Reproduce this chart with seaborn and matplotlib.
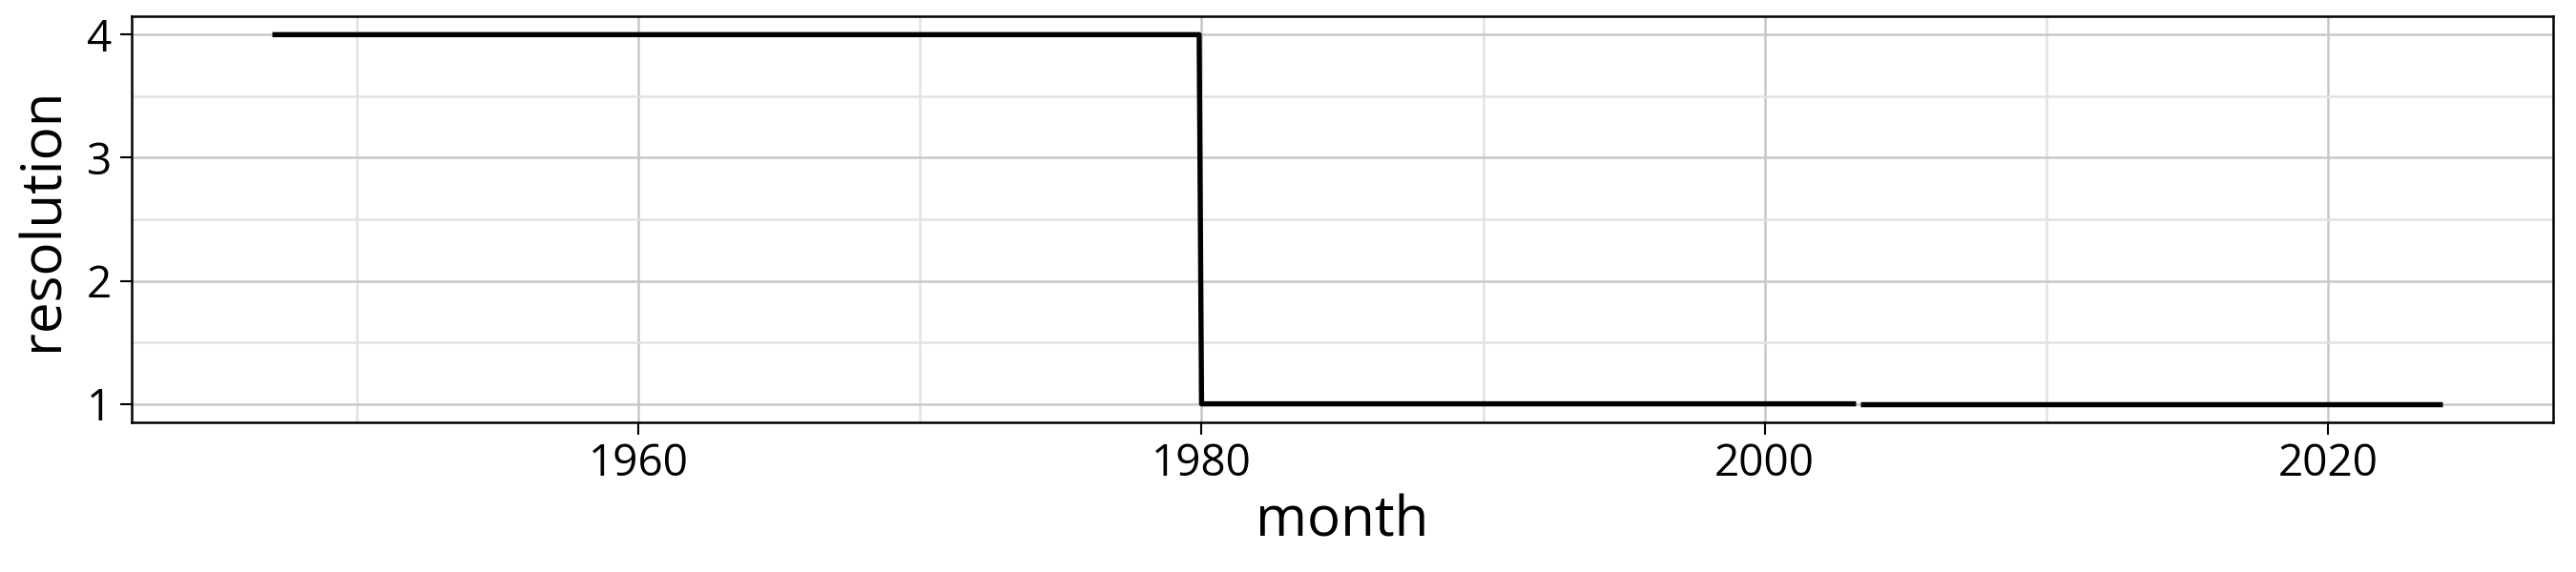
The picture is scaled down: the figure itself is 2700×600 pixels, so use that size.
import matplotlib
matplotlib.use('Agg')
import matplotlib.pyplot as plt
import matplotlib.dates as mdates
import pandas as pd
import seaborn as sns

# breakpoints of the monthly resolution series (one gap in May 2003)
months = ['1947-01', '1979-12', '1980-01', '2003-04', '2003-06', '2024-02']
resolution = [4, 4, 1, 1, 1, 1]
segment = [0, 0, 0, 0, 1, 1]

df = pd.DataFrame({
    'month': pd.to_datetime(months),
    'resolution': resolution,
    'segment': segment,
})

sns.set_theme(style='whitegrid')
plt.rcParams['font.family'] = ['Open Sans', 'DejaVu Sans']
plt.rcParams['text.color'] = 'black'
plt.rcParams['axes.labelcolor'] = 'black'
plt.rcParams['xtick.color'] = 'black'
plt.rcParams['ytick.color'] = 'black'

fig, ax = plt.subplots(figsize=(9, 2), dpi=300)
fig.subplots_adjust(left=0.0511, right=0.9911, bottom=0.2617, top=0.9717)

sns.lineplot(
    data=df,
    x='month',
    y='resolution',
    units='segment',
    estimator=None,
    color='black',
    linewidth=1.3,
    solid_capstyle='butt',
    ax=ax
)

ax.set_xlim(pd.Timestamp('1942-01-01'), pd.Timestamp('2028-01-01'))
ax.xaxis.set_major_locator(mdates.YearLocator(20))
ax.xaxis.set_minor_locator(mdates.YearLocator(10))
ax.xaxis.set_major_formatter(mdates.DateFormatter('%Y'))
ax.yaxis.set_major_locator(matplotlib.ticker.MultipleLocator(1))
ax.yaxis.set_minor_locator(matplotlib.ticker.MultipleLocator(0.5))

ax.grid(which='major', color='#c8c8c8', linewidth=0.6)
ax.grid(which='minor', color='#e2e2e2', linewidth=0.6)
for spine in ax.spines.values():
    spine.set_color('black')
    spine.set_linewidth(0.6)

ax.tick_params(axis='both', which='major', direction='out', length=3, width=0.5,
               labelsize=11, pad=2, bottom=True, left=True)
ax.tick_params(axis='both', which='minor', length=0)

ax.set_xlabel('month', fontsize=14, labelpad=2)
ax.set_ylabel('resolution', fontsize=14, labelpad=4)

fig.savefig('out.png', dpi=300)
